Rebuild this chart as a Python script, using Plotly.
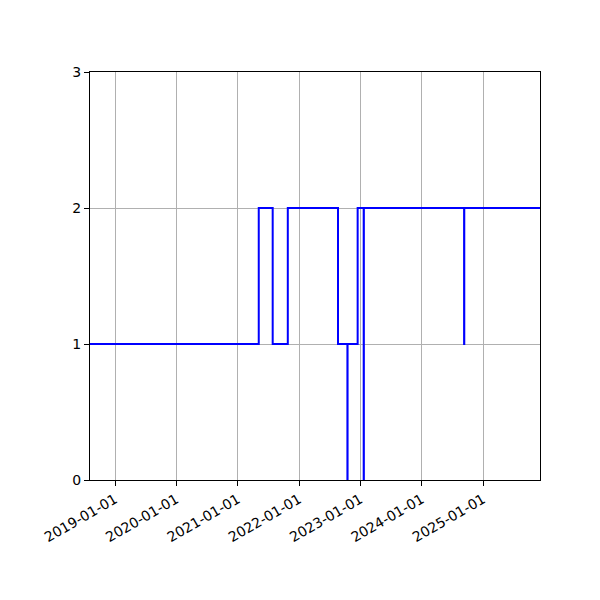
import plotly.graph_objects as go

# step series
dates = ["2018-08-05", "2021-05-06", "2021-07-28", "2021-10-26", "2022-08-21",
         "2022-10-16", "2022-10-17", "2022-12-16", "2023-01-21", "2023-01-22",
         "2024-09-10", "2024-09-11", "2025-12-06"]
values = [1, 2, 1, 2, 1, 0, 1, 2, 0, 2, 1, 2, 2]

x_range = ["2018-08-05", "2025-12-06"]
y_ticks = [0, 1, 2, 3]

fig = go.Figure()
fig.add_trace(go.Scatter(x=dates, y=values, mode="lines", line_shape="hv",
                         line=dict(color="blue", width=2), showlegend=False))

axis_style = dict(showline=True, linecolor="black", linewidth=1, mirror=True,
                  ticks="outside", ticklen=5, tickcolor="black",
                  showgrid=True, gridcolor="#b0b0b0", gridwidth=1, zeroline=False,
                  tickfont=dict(family="DejaVu Sans", size=14, color="black"))

fig.update_xaxes(range=x_range, tickformat="%Y-%m-%d", dtick="M12", tick0="2019-01-01",
                 tickangle=-30, **axis_style)
fig.update_yaxes(range=[0, 3], tickvals=y_ticks, **axis_style)

# page body adds 8px, so margins are shifted to land the axes where the reference has them
fig.update_layout(width=600, height=600, plot_bgcolor="white", paper_bgcolor="white",
                  margin=dict(l=82, r=68, t=64, b=128))

fig.write_html("out.html")
